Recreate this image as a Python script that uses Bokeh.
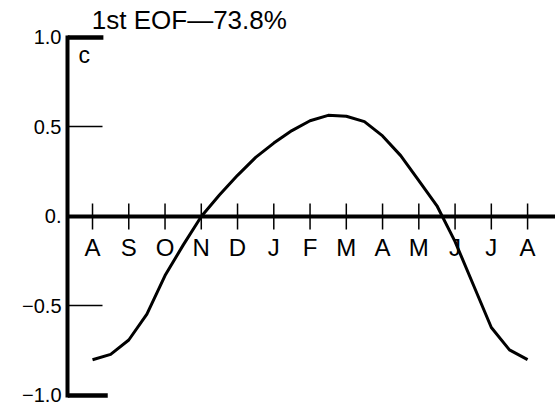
from math import pi

from bokeh.core.properties import value
from bokeh.embed import file_html
from bokeh.models import FixedTicker, LinearAxis, Range1d, Span
from bokeh.plotting import figure
from bokeh.resources import INLINE

# Month labels along the zero line (August to August)
months = ["A", "S", "O", "N", "D", "J", "F", "M", "A", "M", "J", "J", "A"]
month_pos = list(range(len(months)))

# First EOF time coefficient, sampled every half month from August
curve_t = [0.0, 0.5, 1.0, 1.5, 2.0, 2.5, 3.0, 3.5, 4.0, 4.5, 5.0, 5.5, 6.0,
           6.5, 7.0, 7.5, 8.0, 8.5, 9.0, 9.5, 10.0, 10.5, 11.0, 11.5, 12.0]
eof1 = [-0.80, -0.77, -0.69, -0.545, -0.33, -0.16, 0.00, 0.12, 0.23, 0.33,
        0.41, 0.48, 0.535, 0.565, 0.56, 0.53, 0.45, 0.34, 0.20, 0.06,
        -0.14, -0.38, -0.62, -0.745, -0.80]

# Vertical axis ticks and their printed labels
y_ticks = [-1.0, -0.5, 0.0, 0.5, 1.0]
y_tick_labels = ["\u22121.0", "\u22120.5", "0.", "0.5", "1.0"]

title_text = "1st EOF\u201473.8%"
panel_tag = "c"

FONT = "Liberation Sans"

x_range = Range1d(-0.69, 12.77)
y_range = Range1d(-1.0615, 1.2067)

p = figure(
    width=555, height=406,
    output_backend="svg", toolbar_location=None,
    x_range=x_range, y_range=y_range,
    x_axis_location=None, y_axis_location=None,
    min_border_left=67, min_border_right=0,
    min_border_top=0, min_border_bottom=0,
)
p.outline_line_color = None
p.background_fill_color = "white"
p.border_fill_color = "white"
p.xgrid.grid_line_color = None
p.ygrid.grid_line_color = None

# Left axis: heavy spine between -1 and 1, short inward ticks
yaxis = LinearAxis(
    ticker=FixedTicker(ticks=y_ticks),
    bounds=(-1.0, 1.0),
    major_label_overrides={t: s for t, s in zip(y_ticks, y_tick_labels)},
    axis_line_width=4, axis_line_color="black", axis_line_cap="square",
    major_tick_in=35, major_tick_out=0,
    major_tick_line_width=1.5, major_tick_line_color="black",
    minor_tick_line_color=None,
    major_label_standoff=6,
    major_label_text_font=FONT,
    major_label_text_font_size="20px",
    major_label_text_color="black",
)
p.add_layout(yaxis, "left")

# Heavy end bars at +1 and -1
bar_start = x_range.start
p.segment(x0=[bar_start, bar_start], y0=[1.0, -1.0],
          x1=[0.30, 0.42], y1=[1.0, -1.0],
          line_width=4.5, line_color="black", line_cap="butt")

# Zero line serving as the month axis
p.add_layout(Span(location=0, dimension="width",
                  line_color="black", line_width=4))

# Month ticks crossing the zero line
p.scatter(x=month_pos, y=[0] * len(months), marker="dash", size=26,
          angle=pi / 2, line_color="black", line_width=1.5)

# Month labels under the ticks
p.text(x=month_pos, y=[0] * len(months), text=months,
       text_align="center", text_baseline="alphabetic", y_offset=31,
       text_font=value(FONT), text_font_size="24px", text_color="black")

# EOF curve
p.line(curve_t, eof1, line_color="black", line_width=3, line_join="round")

# Title and panel letter
p.text(x=[-0.02], y=[1.100], text=[title_text],
       text_align="left", text_baseline="alphabetic",
       text_font=value(FONT), text_font_size="26px", text_color="black")
p.text(x=[-0.39], y=[0.90], text=[panel_tag],
       text_align="left", text_baseline="alphabetic",
       text_font=value(FONT), text_font_size="23px", text_color="black")

open("out.html", "w").write(file_html(p, INLINE))
